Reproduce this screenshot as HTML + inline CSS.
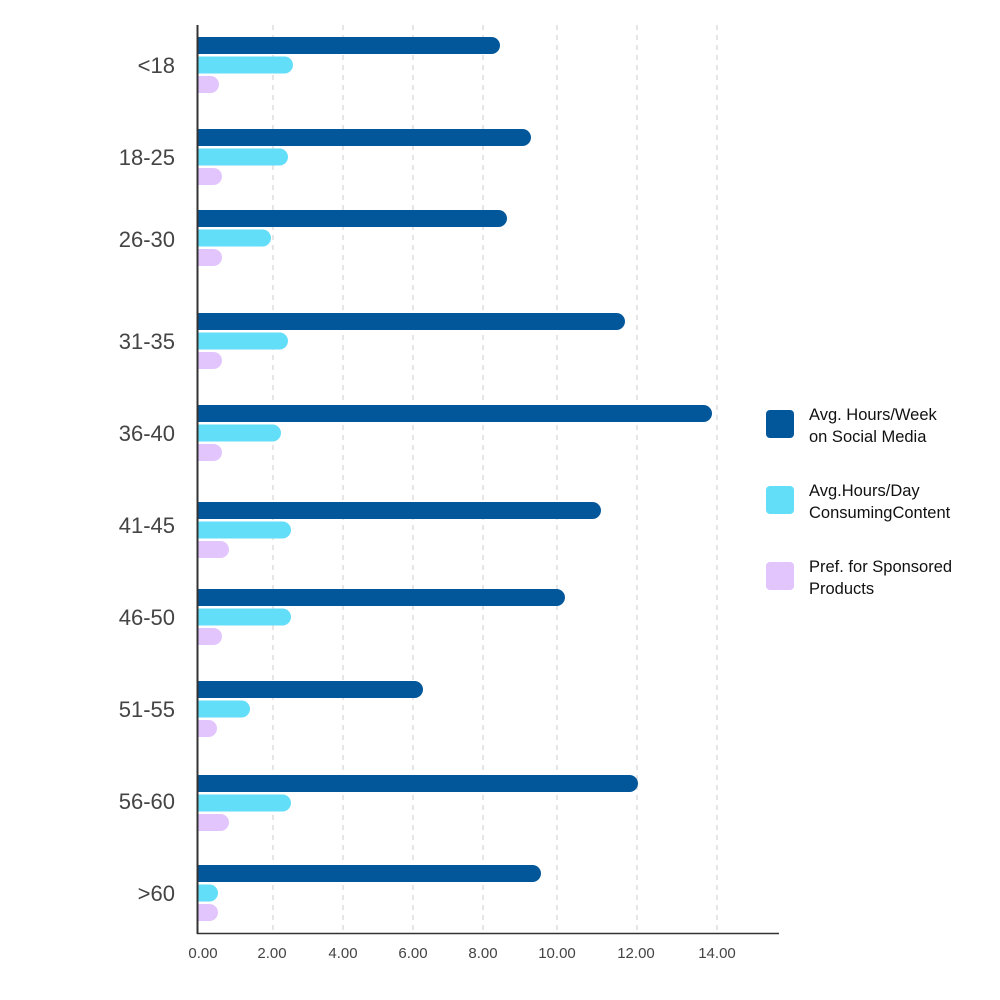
<!DOCTYPE html>
<html><head><meta charset="utf-8"><style>body{margin:0;background:#fff}svg{display:block}</style></head><body>
<svg width="1000" height="1000" xmlns="http://www.w3.org/2000/svg" font-family="Liberation Sans, sans-serif">
<g stroke="#ccc" stroke-width="1" stroke-dasharray="5,5">
<line x1="273" y1="25" x2="273" y2="933"/><line x1="343" y1="25" x2="343" y2="933"/><line x1="413" y1="25" x2="413" y2="933"/><line x1="483" y1="25" x2="483" y2="933"/><line x1="557" y1="25" x2="557" y2="933"/><line x1="637" y1="25" x2="637" y2="933"/><line x1="717" y1="25" x2="717" y2="933"/>
</g>
<g fill="#02579a">
<rect x="180" y="37" width="320" height="17" rx="8.5"/>
<rect x="180" y="129" width="351" height="17" rx="8.5"/>
<rect x="180" y="210" width="327" height="17" rx="8.5"/>
<rect x="180" y="313" width="445" height="17" rx="8.5"/>
<rect x="180" y="405" width="532" height="17" rx="8.5"/>
<rect x="180" y="502" width="421" height="17" rx="8.5"/>
<rect x="180" y="589" width="385" height="17" rx="8.5"/>
<rect x="180" y="681" width="243" height="17" rx="8.5"/>
<rect x="180" y="775" width="458" height="17" rx="8.5"/>
<rect x="180" y="865" width="361" height="17" rx="8.5"/>
</g>
<g fill="#62def9">
<rect x="180" y="56.5" width="113" height="17" rx="8.5"/>
<rect x="180" y="148.5" width="108" height="17" rx="8.5"/>
<rect x="180" y="229.5" width="91" height="17" rx="8.5"/>
<rect x="180" y="332.5" width="108" height="17" rx="8.5"/>
<rect x="180" y="424.5" width="101" height="17" rx="8.5"/>
<rect x="180" y="521.5" width="111" height="17" rx="8.5"/>
<rect x="180" y="608.5" width="111" height="17" rx="8.5"/>
<rect x="180" y="700.5" width="70" height="17" rx="8.5"/>
<rect x="180" y="794.5" width="111" height="17" rx="8.5"/>
<rect x="180" y="884.5" width="38" height="17" rx="8.5"/>
</g>
<g fill="#e3c5fd">
<rect x="180" y="76" width="39" height="17" rx="8.5"/>
<rect x="180" y="168" width="42" height="17" rx="8.5"/>
<rect x="180" y="249" width="42" height="17" rx="8.5"/>
<rect x="180" y="352" width="42" height="17" rx="8.5"/>
<rect x="180" y="444" width="42" height="17" rx="8.5"/>
<rect x="180" y="541" width="49" height="17" rx="8.5"/>
<rect x="180" y="628" width="42" height="17" rx="8.5"/>
<rect x="180" y="720" width="37" height="17" rx="8.5"/>
<rect x="180" y="814" width="49" height="17" rx="8.5"/>
<rect x="180" y="904" width="38" height="17" rx="8.5"/>
</g>
<rect x="0" y="0" width="197" height="1000" fill="#fff"/>
<line x1="197.5" y1="25" x2="197.5" y2="934" stroke="#333" stroke-width="2"/>
<line x1="197" y1="933.5" x2="779" y2="933.5" stroke="#333" stroke-width="1.5"/>
<g font-size="22" fill="#444" text-anchor="end">
<text x="175" y="73">&lt;18</text><text x="175" y="165">18-25</text><text x="175" y="247">26-30</text><text x="175" y="349">31-35</text><text x="175" y="441">36-40</text><text x="175" y="533">41-45</text><text x="175" y="625">46-50</text><text x="175" y="717">51-55</text><text x="175" y="809">56-60</text><text x="175" y="901">&gt;60</text>
</g>
<g font-size="15" fill="#444" text-anchor="middle">
<text x="203" y="958">0.00</text><text x="272" y="958">2.00</text><text x="343" y="958">4.00</text><text x="413" y="958">6.00</text><text x="483" y="958">8.00</text><text x="557" y="958">10.00</text><text x="636" y="958">12.00</text><text x="717" y="958">14.00</text>
</g>
<rect x="766" y="410" width="28" height="28" rx="4" fill="#02579a"/>
<rect x="766" y="486" width="28" height="28" rx="4" fill="#62def9"/>
<rect x="766" y="562" width="28" height="28" rx="4" fill="#e3c5fd"/>
<g font-size="16.5" fill="#111">
<text x="809" y="420">Avg. Hours/Week</text><text x="809" y="442">on Social Media</text>
<text x="809" y="496">Avg.Hours/Day</text><text x="809" y="518">ConsumingContent</text>
<text x="809" y="572">Pref. for Sponsored</text><text x="809" y="594">Products</text>
</g>
</svg>
</body></html>
